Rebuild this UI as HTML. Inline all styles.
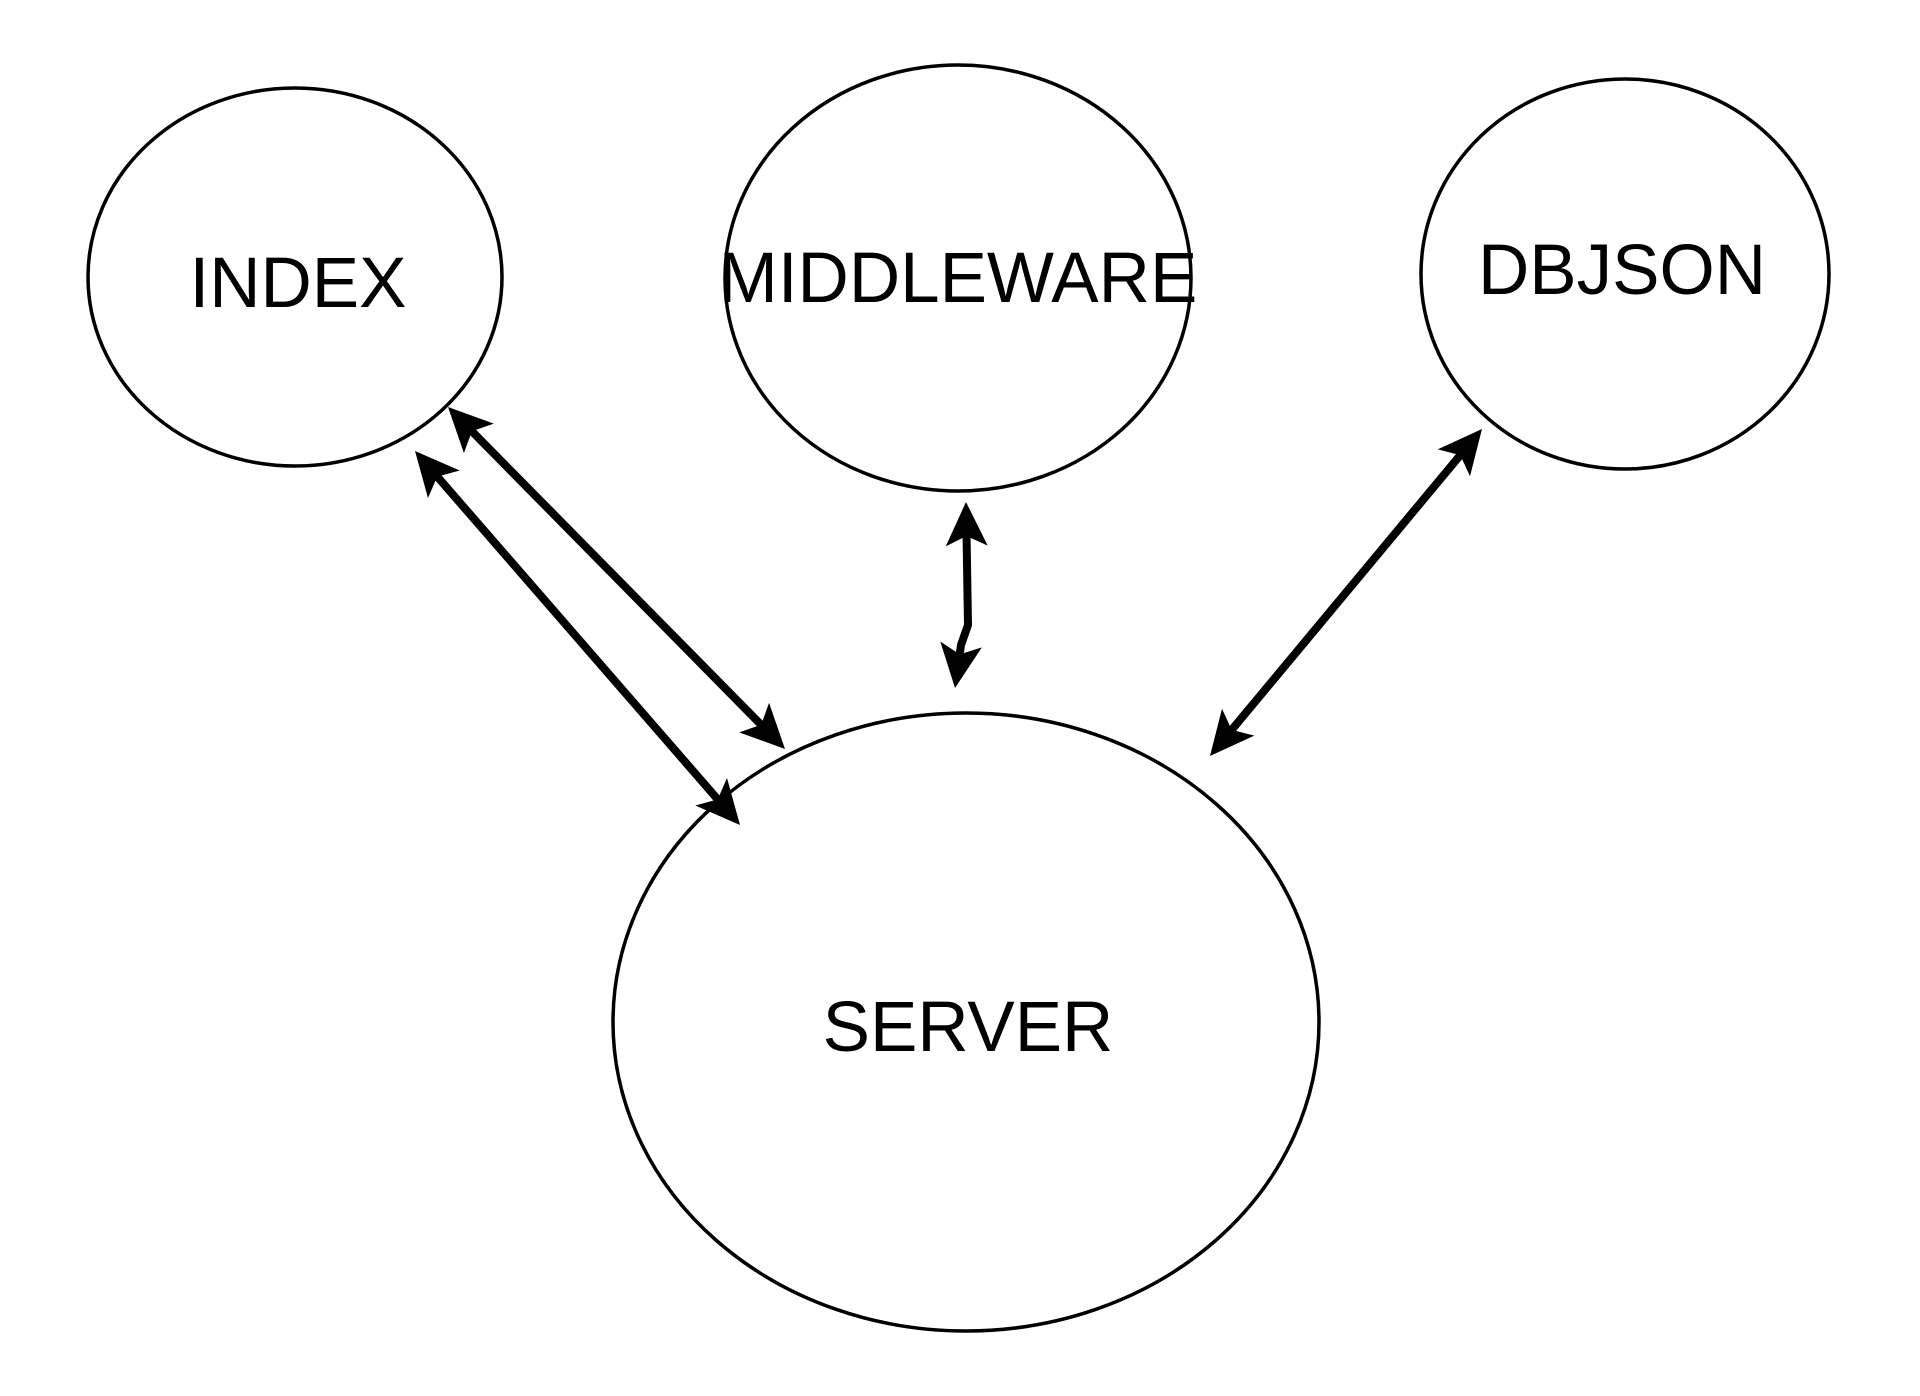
<!DOCTYPE html>
<html><head><meta charset="utf-8"><style>
html,body{margin:0;padding:0;background:#fff;}
svg{display:block}
text{font-family:"Liberation Sans",Arial,sans-serif;font-size:71px;fill:#000;text-anchor:middle}
</style></head><body>
<svg id="s" width="1920" height="1396" viewBox="0 0 1920 1396" xmlns="http://www.w3.org/2000/svg">
<g fill="none" stroke="#000" stroke-width="3.5">
<ellipse cx="295" cy="277" rx="207" ry="189"/>
<ellipse cx="958" cy="278" rx="233" ry="213"/>
<ellipse cx="1625" cy="274" rx="204" ry="195"/>
<ellipse cx="966" cy="1022" rx="353" ry="309"/>
</g>
<g id="arr" stroke="#000" stroke-width="8" fill="none"></g>
<text x="298" y="307">INDEX</text>
<text x="958" y="302">MIDDLEWARE</text>
<text x="1622" y="294">DBJSON</text>
<text x="968" y="1051">SERVER</text>
</svg>
<script>
var lines=[
[[448,407],[785,749]],
[[415,451],[740,825]],
[[966,502],[968,625],[961,645],[955,688]],
[[1482,429],[1210,756]]
];
var g=document.getElementById('arr'),NS='http://www.w3.org/2000/svg';
function head(t,p){var dx=t[0]-p[0],dy=t[1]-p[1],l=Math.hypot(dx,dy),ux=dx/l,uy=dy/l,nx=-uy,ny=ux;
var L=44,W=21,N=34;
var pts=[t,[t[0]-L*ux+W*nx,t[1]-L*uy+W*ny],[t[0]-N*ux,t[1]-N*uy],[t[0]-L*ux-W*nx,t[1]-L*uy-W*ny]];
var pg=document.createElementNS(NS,'polygon');pg.setAttribute('points',pts.map(function(a){return a.join(',')}).join(' '));
pg.setAttribute('fill','#000');pg.setAttribute('stroke','none');g.parentNode.appendChild(pg);
return [t[0]-N*ux,t[1]-N*uy];}
lines.forEach(function(P){var n=P.length;var pts=P.slice();
pts[0]=head(P[0],P[1]);pts[n-1]=head(P[n-1],P[n-2]);
var pl=document.createElementNS(NS,'polyline');pl.setAttribute('points',pts.map(function(a){return a.join(',')}).join(' '));
pl.setAttribute('stroke-linejoin','round');g.appendChild(pl);});
</script>
</body></html>
